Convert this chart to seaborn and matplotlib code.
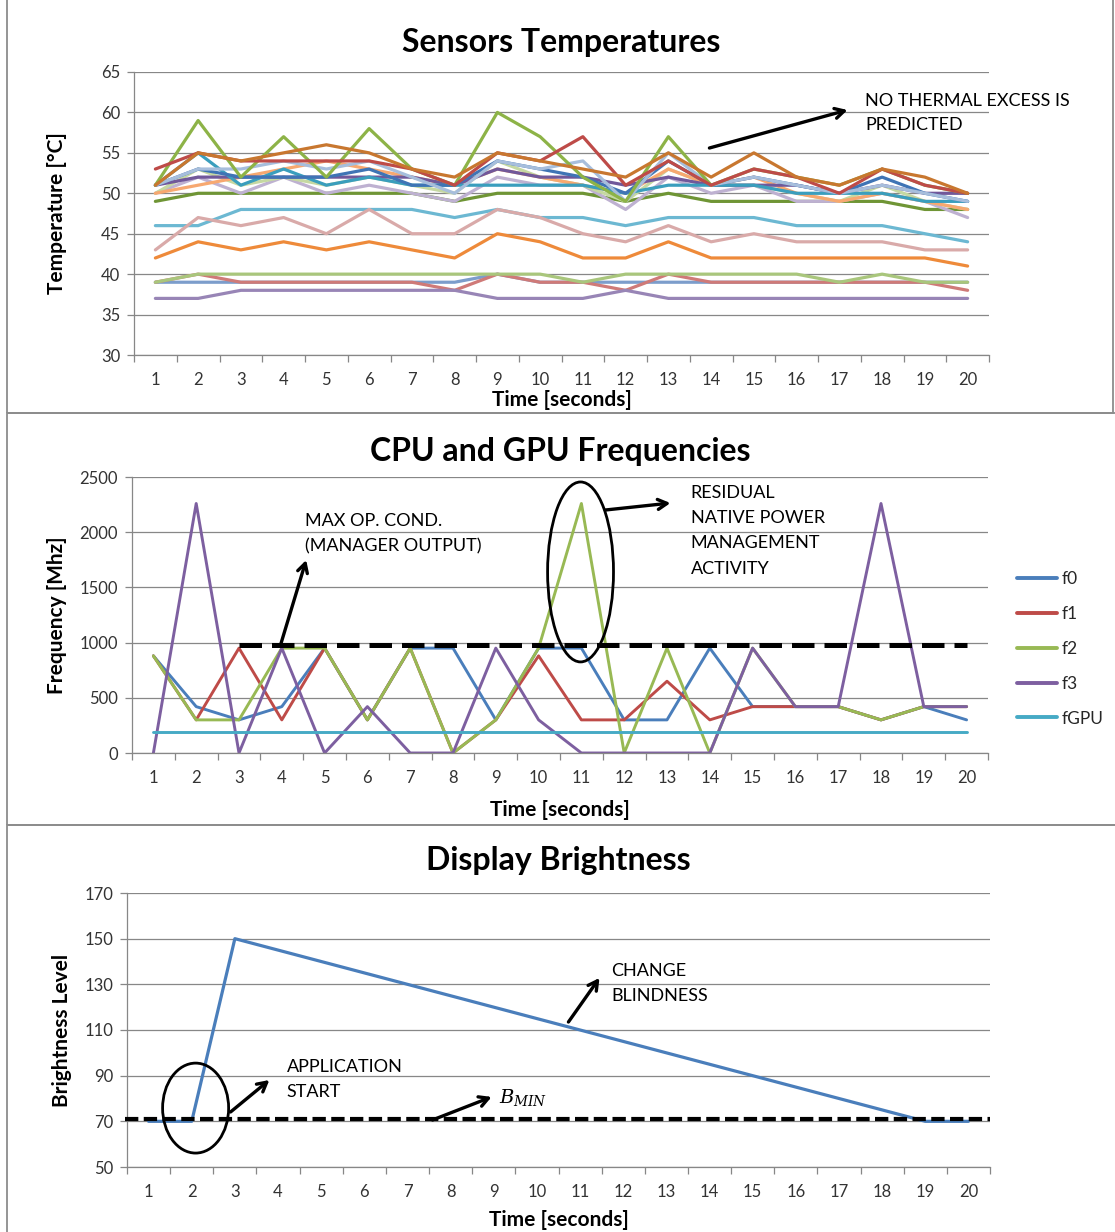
import numpy as np
import pandas as pd
import matplotlib
matplotlib.use("Agg")
import matplotlib.pyplot as plt
from matplotlib.patches import Ellipse, Rectangle
from matplotlib.lines import Line2D
import seaborn as sns

# ---------------------------------------------------------------- data
time_s = list(range(1, 21))

# Sensor temperatures [°C], one list per sensor
temp_s01 = [39, 39, 39, 39, 39, 39, 39, 39, 40, 39, 39, 39, 39, 39, 39, 39, 39, 39, 39, 39]
temp_s02 = [39, 40, 39, 39, 39, 39, 39, 38, 40, 39, 39, 38, 40, 39, 39, 39, 39, 39, 39, 38]
temp_s03 = [39, 40, 40, 40, 40, 40, 40, 40, 40, 40, 39, 40, 40, 40, 40, 40, 39, 40, 39, 39]
temp_s04 = [37, 37, 38, 38, 38, 38, 38, 38, 37, 37, 37, 38, 37, 37, 37, 37, 37, 37, 37, 37]
temp_s05 = [46, 46, 48, 48, 48, 48, 48, 47, 48, 47, 47, 46, 47, 47, 47, 46, 46, 46, 45, 44]
temp_s06 = [42, 44, 43, 44, 43, 44, 43, 42, 45, 44, 42, 42, 44, 42, 42, 42, 42, 42, 42, 41]
temp_s07 = [43, 47, 46, 47, 45, 48, 45, 45, 48, 47, 45, 44, 46, 44, 45, 44, 44, 44, 43, 43]
temp_s08 = [49, 50, 50, 50, 50, 50, 50, 49, 50, 50, 50, 49, 50, 49, 49, 49, 49, 49, 48, 48]
temp_s09 = [50, 52, 50, 52, 50, 51, 50, 49, 52, 51, 51, 48, 52, 50, 51, 49, 49, 50, 49, 47]
temp_s10 = [50, 53, 51, 52, 51, 52, 51, 50, 54, 52, 51, 49, 53, 51, 51, 50, 49, 51, 49, 48]
temp_s11 = [50, 51, 52, 53, 54, 53, 52, 51, 53, 52, 51, 50, 53, 51, 52, 50, 49, 50, 49, 48]
temp_s12 = [51, 52, 52, 52, 52, 52, 52, 51, 53, 52, 52, 51, 52, 51, 51, 51, 50, 51, 50, 50]
temp_s13 = [51, 55, 51, 53, 51, 52, 51, 51, 51, 51, 51, 50, 51, 51, 51, 50, 50, 50, 49, 49]
temp_s14 = [51, 53, 52, 52, 52, 53, 51, 51, 54, 53, 52, 50, 54, 51, 52, 51, 50, 52, 50, 49]
temp_s15 = [51, 53, 53, 54, 53, 54, 52, 50, 54, 53, 54, 49, 55, 51, 52, 51, 50, 51, 50, 49]
temp_s16 = [51, 59, 52, 57, 52, 58, 53, 51, 60, 57, 52, 49, 57, 51, 53, 52, 51, 53, 51, 50]
temp_s17 = [53, 55, 54, 54, 54, 54, 53, 51, 55, 54, 57, 51, 54, 51, 53, 52, 50, 53, 51, 50]
temp_s18 = [51, 55, 54, 55, 56, 55, 53, 52, 55, 54, 53, 52, 55, 52, 55, 52, 51, 53, 52, 50]

temp_names = ["s01", "s02", "s03", "s04", "s05", "s06", "s07", "s08", "s09",
              "s10", "s11", "s12", "s13", "s14", "s15", "s16", "s17", "s18"]
temp_colors = ["#7C9DCB", "#CF7A78", "#A9C67C", "#9885B6", "#6CB8D2", "#EE8A3A",
               "#D9AAA9", "#6F9535", "#BEB1D1", "#C5D8A2", "#F7A870", "#71589A",
               "#3A9EBD", "#3F74B5", "#A7BEDC", "#8DB347", "#BE4B48", "#C8772F"]

# CPU / GPU frequencies [MHz]
freq_f0 = [880, 420, 300, 420, 950, 300, 950, 950, 300, 950, 950, 300, 300, 950, 420, 420, 420, 300, 420, 300]
freq_f1 = [880, 300, 950, 300, 950, 300, 950, 0, 300, 880, 300, 300, 650, 300, 420, 420, 420, 300, 420, 420]
freq_f2 = [880, 300, 300, 950, 950, 300, 950, 0, 300, 950, 2260, 0, 950, 0, 950, 420, 420, 300, 420, 420]
freq_f3 = [0, 2260, 0, 950, 0, 420, 0, 0, 950, 300, 0, 0, 0, 0, 950, 420, 420, 2260, 420, 420]
freq_gpu = [190] * 20
freq_names = ["f0", "f1", "f2", "f3", "fGPU"]
freq_colors = ["#4A7EBB", "#BE4B48", "#98B954", "#7D5FA0", "#46AAC5"]
max_op_span = [3, 20]
max_op_level = 980

# Display brightness
brightness = [70, 70, 150, 145, 140, 135, 130, 125, 120, 115, 110, 105, 100, 95, 90, 85, 80, 75, 70, 70]
b_min_span = [0.45, 20.5]
b_min_level = 71

# ---------------------------------------------------------------- style
sns.set_theme(style="white")
plt.rcParams["font.family"] = ["Lato", "DejaVu Sans"]
plt.rcParams["mathtext.fontset"] = "dejavuserif"

GRID = "#878787"
TICK_TXT = "#333333"
NOTE_SIZE = 13
W, H = 1115, 1232
fig = plt.figure(figsize=(W / 100, H / 100), dpi=100)


def px_axes(left, top, right, bottom):
    return fig.add_axes([left / W, 1 - bottom / H, (right - left) / W, (bottom - top) / H])


def panel_frame(left, top, right, bottom):
    fig.add_artist(Rectangle((left / W, 1 - bottom / H), (right - left) / W, (bottom - top) / H,
                             transform=fig.transFigure, fill=False, edgecolor="#8C8C8C",
                             linewidth=1.3, clip_on=False))


def style_axes(ax, ylim, yticks):
    ax.set_xlim(0.5, 20.5)
    ax.set_ylim(*ylim)
    ax.set_yticks(yticks)
    ax.set_xticks(time_s)
    ax.set_xticks(np.arange(0.5, 21, 1), minor=True)
    ax.tick_params(axis="x", which="major", length=0, pad=12, labelsize=12, labelcolor=TICK_TXT)
    ax.tick_params(axis="x", which="minor", bottom=True, length=5, width=0.9,
                   color=GRID, direction="out")
    ax.tick_params(axis="y", which="major", left=True, length=5, width=0.9, color=GRID,
                   direction="out", pad=5, labelsize=12, labelcolor=TICK_TXT)
    ax.grid(axis="y", color=GRID, linewidth=0.9)
    ax.set_axisbelow(True)
    for s in ["top", "right"]:
        ax.spines[s].set_visible(False)
    for s in ["left", "bottom"]:
        ax.spines[s].set_color(GRID)
        ax.spines[s].set_linewidth(0.9)


def labels(ax, title, title_y, xlab_y, ylabel, ylab_x):
    ax.set_title(title, fontsize=23, fontweight="bold", y=title_y, va="center", pad=0, color="black")
    ax.set_xlabel("Time [seconds]", fontsize=15, fontweight="bold", va="center", color="black")
    ax.xaxis.set_label_coords(0.5, xlab_y)
    ax.set_ylabel(ylabel, fontsize=15, fontweight="bold", va="center", color="black")
    ax.yaxis.set_label_coords(ylab_x, 0.5)


arrow_kw = dict(arrowstyle="->,head_length=0.55,head_width=0.3", color="black", lw=2.4,
                shrinkA=0, shrinkB=0)

# panel frames
panel_frame(7, -3, 1113, 413)
panel_frame(7, 413, 1125, 825)
panel_frame(7, 825, 1125, 1240)

# ---------------------------------------------------------------- temperatures
ax1 = px_axes(134, 72, 989, 355)
temp_long = pd.DataFrame({
    "time": time_s * len(temp_names),
    "sensor": [n for n in temp_names for _ in time_s],
    "temp": sum([temp_s01, temp_s02, temp_s03, temp_s04, temp_s05, temp_s06, temp_s07,
                 temp_s08, temp_s09, temp_s10, temp_s11, temp_s12, temp_s13, temp_s14,
                 temp_s15, temp_s16, temp_s17, temp_s18], []),
})
sns.lineplot(data=temp_long, x="time", y="temp", hue="sensor", hue_order=temp_names,
             palette=dict(zip(temp_names, temp_colors)), linewidth=2.3, legend=False,
             errorbar=None, ax=ax1)
style_axes(ax1, (30, 65), range(30, 66, 5))
labels(ax1, "Sensors Temperatures", 1.106, -0.159, "Temperature [°C]", -0.09)
ax1.annotate("", xy=(17.19, 60.3), xytext=(13.96, 55.6), arrowprops=arrow_kw)
ax1.text(17.61, 62.4, "NO THERMAL EXCESS IS\nPREDICTED", fontsize=NOTE_SIZE, va="top",
         ha="left", linespacing=1.65, color="black", clip_on=False)

# ---------------------------------------------------------------- frequencies
ax2 = px_axes(132, 477, 988, 753)
freq_long = pd.DataFrame({
    "time": time_s * len(freq_names),
    "core": [n for n in freq_names for _ in time_s],
    "freq": freq_f0 + freq_f1 + freq_f2 + freq_f3 + freq_gpu,
})
sns.lineplot(data=freq_long, x="time", y="freq", hue="core", hue_order=freq_names,
             palette=dict(zip(freq_names, freq_colors)), linewidth=2.1, legend=False,
             errorbar=None, ax=ax2)
ax2.plot(max_op_span, [max_op_level] * 2, color="black", lw=3.6, dashes=(4.5, 2.0),
         solid_capstyle="butt", dash_capstyle="butt", zorder=5)
style_axes(ax2, (0, 2500), range(0, 2501, 500))
labels(ax2, "CPU and GPU Frequencies", 1.0906, -0.2065, "Frequency [Mhz]", -0.0876)

handles = [Line2D([], [], color=c, lw=2.8) for c in freq_colors]
ax2.legend(handles, freq_names, loc="center left", bbox_to_anchor=(1017 / W, 1 - 649 / H),
           bbox_transform=fig.transFigure, frameon=False, fontsize=12.5, handlelength=2.3,
           handletextpad=0.3, labelspacing=1.08, borderpad=0, borderaxespad=0)

ax2.add_patch(Ellipse((10.98, 1640), 1.54, 1630, fill=False, edgecolor="black", lw=2.0,
                      zorder=6, clip_on=False))
ax2.annotate("", xy=(4.57, 1748), xytext=(3.97, 978), arrowprops=arrow_kw)
ax2.text(4.55, 2170, "MAX OP. COND.\n(MANAGER OUTPUT)", fontsize=NOTE_SIZE, va="top",
         ha="left", linespacing=1.65, color="black")
ax2.annotate("", xy=(13.08, 2264), xytext=(11.56, 2201), arrowprops=arrow_kw)
ax2.text(13.55, 2425, "RESIDUAL\nNATIVE POWER\nMANAGEMENT\nACTIVITY", fontsize=NOTE_SIZE,
         va="top", ha="left", linespacing=1.7, color="black", clip_on=False)

# ---------------------------------------------------------------- brightness
ax3 = px_axes(127, 893, 990, 1167)
bright_df = pd.DataFrame({"time": time_s, "level": brightness})
sns.lineplot(data=bright_df, x="time", y="level", color="#4A7EBB", linewidth=2.3,
             errorbar=None, ax=ax3)
ax3.plot(b_min_span, [b_min_level] * 2, color="black", lw=3.0, dashes=(3.2, 1.3),
         dash_capstyle="butt", zorder=5, clip_on=False)
style_axes(ax3, (50, 170), range(50, 171, 20))
labels(ax3, "Display Brightness", 1.117, -0.193, "Brightness Level", -0.0753)

ax3.add_patch(Ellipse((2.09, 75.8), 1.53, 39.4, fill=False, edgecolor="black", lw=2.0,
                      zorder=6))
ax3.annotate("", xy=(3.80, 88.1), xytext=(2.90, 74.1), arrowprops=arrow_kw)
ax3.text(4.20, 97.2, "APPLICATION\nSTART", fontsize=NOTE_SIZE, va="top", ha="left",
         linespacing=1.65, color="black")
ax3.annotate("", xy=(8.95, 80.7), xytext=(7.58, 70.6), arrowprops=arrow_kw)
ax3.text(9.13, 80.3, r"$B_{MIN}$", fontsize=14, va="center", ha="left", color="black")
ax3.annotate("", xy=(11.45, 132.8), xytext=(10.73, 113.5), arrowprops=arrow_kw)
ax3.text(11.73, 139.2, "CHANGE\nBLINDNESS", fontsize=NOTE_SIZE, va="top", ha="left",
         linespacing=1.65, color="black")

fig.savefig("out.png", dpi=100)
